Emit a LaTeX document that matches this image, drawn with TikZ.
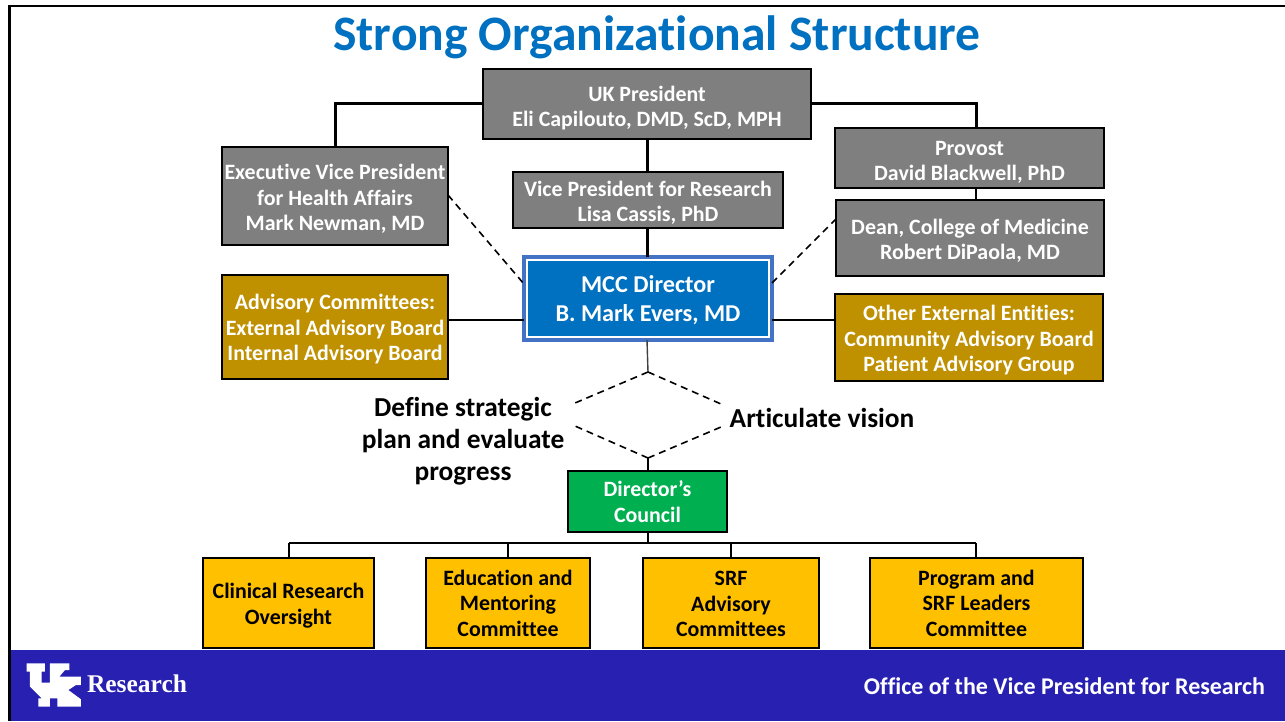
\documentclass[tikz,border=0pt]{standalone}
\usepackage{fontspec}
\setmainfont{Carlito}[Ligatures=NoCommon]
\definecolor{ttl}{HTML}{0070C0}
\definecolor{gry}{HTML}{7F7F7F}
\definecolor{gld}{HTML}{BF9000}
\definecolor{blu}{HTML}{0070C0}
\definecolor{brd}{HTML}{4472C4}
\definecolor{grn}{HTML}{00B050}
\definecolor{yel}{HTML}{FFC000}
\definecolor{ftr}{HTML}{2820B0}
\newcommand{\tsp}[1]{\rule{0pt}{#1pt}}
\tikzset{
  every node/.style={inner sep=0pt,outer sep=0pt,align=center,font=\bfseries},
  gbox/.style={draw=black,line width=1.8pt,fill=gry,text=white,anchor=north west,font=\bfseries\fontsize{21.9}{25.5}\selectfont},
  gdbox/.style={gbox,fill=gld},
  ybox/.style={gbox,fill=yel,text=black},
  grnbox/.style={gbox,fill=grn},
  mccbox/.style={draw=brd,line width=3.4pt,fill=blu,text=white,anchor=north west,font=\bfseries\fontsize{24.2}{29}\selectfont},
  lab/.style={text=black,font=\bfseries\fontsize{27.4}{32}\selectfont},
  thick1/.style={draw=black,line width=3pt},
  thin1/.style={draw=black,line width=2pt},
  dash1/.style={draw=black,line width=1.6pt,dash pattern=on 7pt off 5pt},
}
\begin{document}
\begin{tikzpicture}[x=1pt,y=1pt]
\useasboundingbox (0,0) rectangle (1285,-721);
\fill[white] (0,0) rectangle (1285,-721);
\draw[black,line width=2.6pt] (9.6,-721) -- (9.6,-5.8) -- (1285,-5.8);
\fill[ftr] (11,-650) rectangle (1285,-721);
% free coordinates
\coordinate (dl) at (648,-372);
\coordinate (dr) at (648,-458);
\coordinate (ml) at (575,-403);
\coordinate (ml2) at (575,-426);
\coordinate (mr) at (721,-404);
\coordinate (mr2) at (721,-427);
\coordinate (busL) at (289,-543);
\coordinate (busR) at (976,-543);
\coordinate (bus) at (648,-543);
\coordinate (b2) at (508,-543);
\coordinate (b3) at (731,-543);
\coordinate (b4) at (976,-543);
% nodes
\node[gbox,minimum width=328,minimum height=70] (pres) at (483,-69) {\tsp{23}UK President\\Eli Capilouto, DMD, ScD, MPH};
\node[gbox,minimum width=226,minimum height=98] (evp) at (222,-147) {\tsp{21}Executive Vice President\\for Health Affairs\\Mark Newman, MD};
\node[gbox,minimum width=269,minimum height=60] (prov) at (835,-128) {\tsp{23}Provost\\David Blackwell, PhD};
\node[gbox,minimum width=268,minimum height=76] (dean) at (836,-200) {\tsp{21}Dean, College of Medicine\\Robert DiPaola, MD};
\node[gbox,minimum width=270,minimum height=56] (vp) at (513,-172) {\tsp{21}Vice President for Research\\Lisa Cassis, PhD};
\node[mccbox,minimum width=248,minimum height=83] (mcc) at (524,-257) {\tsp{21}MCC Director\\B. Mark Evers, MD};
\draw[white,line width=2pt] ([shift={(3,3)}]mcc.south west) rectangle ([shift={(-3,-3)}]mcc.north east);
\node[gdbox,minimum width=226,minimum height=104] (adv) at (222,-275) {\tsp{20}Advisory Committees:\\External Advisory Board\\Internal Advisory Board};
\node[gdbox,minimum width=268,minimum height=87] (ext) at (835,-294) {\tsp{21}Other External Entities:\\Community Advisory Board\\Patient Advisory Group};
\node[grnbox,minimum width=159,minimum height=61] (dc) at (568,-471) {Director’s\\Council};
\node[ybox,minimum width=171,minimum height=90] (y1) at (203,-558) {\tsp{21}Clinical Research\\Oversight};
\node[ybox,minimum width=164,minimum height=90] (y2) at (426,-558) {Education and\\Mentoring\\Committee};
\node[ybox,minimum width=176,minimum height=90] (y3) at (643,-558) {\tsp{16.5}SRF\\Advisory\\Committees};
\node[ybox,minimum width=213,minimum height=90] (y4) at (870,-558) {Program and\\SRF Leaders\\Committee};
% connectors
\draw[thick1] (pres.west|-0,-103.5) -| (evp.north);
\draw[thick1] (pres.east|-0,-103.5) -| (prov.north-|976,0);
\draw[thick1] (pres.south-|647,0) -- (vp.north-|647,0);
\draw[thick1] (vp.south-|647,0) -- (mcc.north-|647,0);
\draw[thin1] (prov.south-|976,0) -- (dean.north-|976,0);
\draw[thin1] (adv.east|-0,-320) -- (mcc.west|-0,-320);
\draw[thin1] (mcc.east|-0,-320) -- (ext.west|-0,-320);
\draw[black!75,line width=1.4pt] (mcc.south-|647,0) -- (dl);
\draw[thin1] (dr) -- (dc.north-|648,0);
\draw[thin1] (dc.south-|648,0) -- (bus);
\draw[thin1] (busL) -- (busR);
\draw[thin1] (busL) -- (y1.north-|289,0);
\draw[thin1] (b2) -- (y2.north-|508,0);
\draw[thin1] (b3) -- (y3.north-|731,0);
\draw[thin1] (b4) -- (y4.north-|976,0);
\draw[dash1] (evp.east|-0,-195) -- (mcc.west|-0,-284);
\draw[dash1] (mcc.east|-0,-283) -- (dean.west|-0,-219);
\draw[dash1] (dl) -- (ml);
\draw[dash1] (dl) -- (mr);
\draw[dash1] (dr) -- (ml2);
\draw[dash1] (dr) -- (mr2);
% labels
\node[lab] (l1) at (463,-441.5) {Define strategic\\plan and evaluate\\progress};
\node[lab] (l2) at (822,-418) {Articulate vision};
\node[text=ttl,font=\bfseries\fontsize{49.6}{52}\selectfont] (title) at (657,-37.5) {Strong Organizational Structure};
\node[text=white,font=\bfseries\fontsize{24}{26}\selectfont,anchor=east] (off) at (1265,-686) {Office of the Vice President for Research};
% logo
\begin{scope}[x=0.33333pt,y=-0.33333pt,shift={(0,1920)}]
\fill[white] (80,70)--(135,70)--(135,95)--(125,95)--(125,128)--(150,128)--(150,70)--(208,70)--(208,90)--(195,90)--(178,110)--(243,110)--(243,135)--(228,135)--(205,150)--(243,178)--(243,200)--(172,200)--(172,175)--(150,175)--(150,200)--(115,200)--(115,175)--(125,175)--(90,140)--(90,95)--(80,95)--cycle;
\end{scope}
\node[text=white,font=\fontspec{Liberation Serif}\bfseries\fontsize{25.5}{27}\selectfont,anchor=west] (res) at (87,-684) {Research};
\end{tikzpicture}
\end{document}
